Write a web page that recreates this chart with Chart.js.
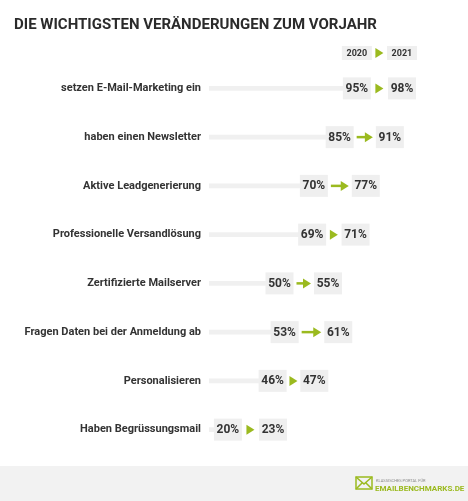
<!DOCTYPE html>
<html><head><meta charset="utf-8">
<script src="https://cdn.jsdelivr.net/npm/chart.js@4"></script>
<style>html,body{margin:0;padding:0;background:#fff;}#w{position:relative;width:468px;height:501px;}</style>
</head><body><div id="w"><canvas id="c" width="468" height="501"></canvas></div>
<script>
const categories = ["setzen E-Mail-Marketing ein","haben einen Newsletter","Aktive Leadgenerierung","Professionelle Versandlösung","Zertifizierte Mailserver","Fragen Daten bei der Anmeldung ab","Personalisieren","Haben Begrüssungsmail"];
const values2020 = [95,85,70,69,50,53,46,20];
const values2021 = [98,91,77,71,55,61,47,23];
const seriesNames = ["2020","2021"];
const title = "DIE WICHTIGSTEN VERÄNDERUNGEN ZUM VORJAHR";
const GREEN = "#9bba1f";
function box(ctx,cx,cy,w,h,txt,font){ctx.fillStyle="#efefef";ctx.fillRect(cx-w/2,cy-h/2,w,h);ctx.fillStyle="#333";ctx.font=font;ctx.textAlign="center";ctx.textBaseline="middle";ctx.fillText(txt,cx,cy+0.5);}
function arrow(ctx,x1,x2,y){ctx.fillStyle=GREEN;ctx.strokeStyle=GREEN;const hl=8;const len=x2-x1;let tip=x2-3;if(len>18){ctx.lineWidth=2.5;ctx.beginPath();ctx.moveTo(x1+3,y);ctx.lineTo(tip-hl+1,y);ctx.stroke();}else{tip=(x1+x2)/2+hl/2;}ctx.beginPath();ctx.moveTo(tip-hl,y-5);ctx.lineTo(tip,y);ctx.lineTo(tip-hl,y+5);ctx.closePath();ctx.fill();}
const deco={id:"deco",
 beforeDraw(ch){const ctx=ch.ctx;ctx.save();ctx.fillStyle="#f2f2f2";ctx.fillRect(0,466,468,35);ctx.restore();},
 afterDatasetsDraw(ch){const ctx=ch.ctx,xs=ch.scales.x,ys=ch.scales.y;ctx.save();
  ctx.fillStyle="#2b2b2b";ctx.font="bold 15px Roboto";ctx.textAlign="left";ctx.textBaseline="alphabetic";ctx.fillText(title,14,29);
  const f="bold 12px Roboto";
  categories.forEach((c,i)=>{const y=ys.getPixelForValue(i);const c1=xs.getPixelForValue(values2020[i]);const c2=c1+40+(values2021[i]-values2020[i])*1.7;
   box(ctx,c1,y,28,22,values2020[i]+"%",f);box(ctx,c2,y,28,22,values2021[i]+"%",f);arrow(ctx,c1+14,c2-14,y);
   if(i===0){const hy=53;box(ctx,c1,hy,30,14,seriesNames[0],"bold 9px Roboto");box(ctx,c2,hy,30,14,seriesNames[1],"bold 9px Roboto");arrow(ctx,c1+15,c2-15,hy);}
  });
  const lx=356;
  ctx.strokeStyle=GREEN;ctx.lineWidth=1.5;ctx.strokeRect(lx,477,16,12);ctx.beginPath();ctx.moveTo(lx,477);ctx.lineTo(lx+8,484);ctx.lineTo(lx+16,477);ctx.moveTo(lx,489);ctx.lineTo(lx+6,483);ctx.moveTo(lx+16,489);ctx.lineTo(lx+10,483);ctx.stroke();
  ctx.fillStyle="#888";ctx.font="4px Roboto";ctx.textAlign="left";ctx.fillText("KLASSISCHES PORTAL FÜR",lx+20,481);
  ctx.fillStyle=GREEN;ctx.font="bold 8px Roboto";ctx.fillText("EMAILBENCHMARKS.DE",lx+19,489);
  ctx.restore();}
};
new Chart(document.getElementById("c"),{type:"bar",
 data:{labels:categories,datasets:[{data:values2020.map(v=>[9,v]),backgroundColor:"#f0f0f0",barThickness:4,borderSkipped:false}]},
 options:{indexAxis:"y",responsive:false,animation:false,
  layout:{padding:{top:64,bottom:47,right:8,left:0}},
  plugins:{legend:{display:false},tooltip:{enabled:false}},
  scales:{x:{display:false,min:9,max:155},
   y:{afterFit(s){s.width=209;},grid:{display:false},border:{display:false},ticks:{padding:0,color:"#333",font:{family:"Roboto",weight:"bold",size:11}}}}},
 plugins:[deco]});
</script></body></html>
